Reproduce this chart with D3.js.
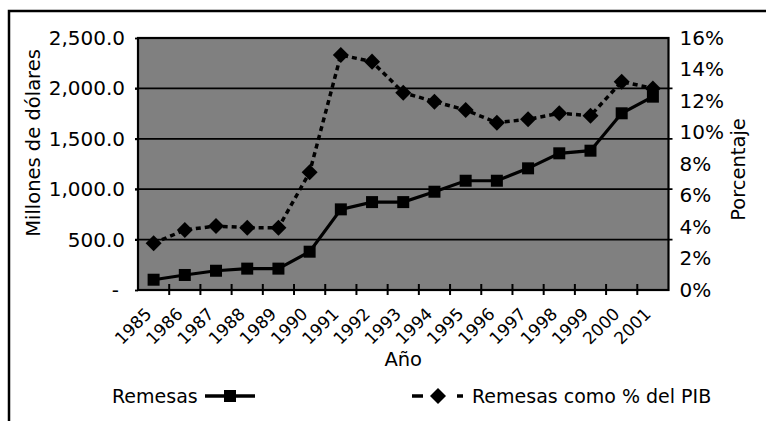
<!DOCTYPE html>
<html><head><meta charset="utf-8">
<script src="https://cdn.jsdelivr.net/npm/d3@7"></script>
<style>
body{margin:0;background:#fff}
text{font-family:"DejaVu Sans",sans-serif;fill:#000}
</style>
</head><body><svg id="c" width="766" height="421"></svg>
<script>
const years = ["1985","1986","1987","1988","1989","1990","1991","1992","1993","1994","1995","1996","1997","1998","1999","2000","2001"];
const remesas = [102,149,191,212,212,380,800,872,872,975,1084,1084,1207,1356,1382,1753,1918];
const pctPIB = [2.97,3.81,4.06,3.96,3.96,7.47,14.92,14.5,12.53,11.96,11.43,10.62,10.84,11.22,11.07,13.23,12.8];
const leftTicks = [0,500,1000,1500,2000,2500];
const rightTicks = [0,2,4,6,8,10,12,14,16];
const seriesNames = ["Remesas","Remesas como % del PIB"];

const svg = d3.select("#c");
const L = 138, R = 668.5, T = 38, B = 290;
const x = d3.scaleBand().domain(years).range([L, R]);
const y = d3.scaleLinear().domain([0, 2500]).range([B, T]);
const y2 = d3.scaleLinear().domain([0, 16]).range([B, T]);

// outer frame (cropped box)
svg.append("path").attr("d", "M9,421V11H766").attr("fill", "none").attr("stroke", "#000").attr("stroke-width", 2.5);

// plot background
svg.append("rect").attr("x", L).attr("y", T).attr("width", R - L).attr("height", B - T).attr("fill", "#808080");

// gridlines
svg.append("g").selectAll("line").data(leftTicks.filter(d => d > 0 && d < 2500)).join("line")
  .attr("x1", L - 3).attr("x2", R + 4).attr("y1", d => y(d)).attr("y2", d => y(d))
  .attr("stroke", "#000").attr("stroke-width", 1.8);

// plot border
svg.append("rect").attr("x", L).attr("y", T).attr("width", R - L).attr("height", B - T)
  .attr("fill", "none").attr("stroke", "#000").attr("stroke-width", 2.2);

// left axis
const ga = svg.append("g").attr("transform", `translate(${L},0)`)
  .call(d3.axisLeft(y).tickValues(leftTicks).tickSize(3).tickPadding(10)
    .tickFormat(d => d === 0 ? "-" : d3.format(",.1f")(d)));
ga.select(".domain").remove();
ga.selectAll("line").attr("stroke", "#000").attr("stroke-width", 1.8);
ga.selectAll("text").attr("font-size", 20).attr("font-family", '"DejaVu Sans",sans-serif')
  .attr("dx", d => d === 0 ? -6 : 0);

// right axis
const gr = svg.append("g").attr("transform", `translate(${R},0)`)
  .call(d3.axisRight(y2).tickValues(rightTicks).tickSize(0).tickPadding(11).tickFormat(d => d + "%"));
gr.select(".domain").remove();
gr.selectAll("text").attr("font-size", 20).attr("font-family", '"DejaVu Sans",sans-serif');

// x axis ticks (between categories, crossing)
const bounds = years.slice(1);
svg.append("g").selectAll("line").data(bounds).join("line")
  .attr("x1", d => x(d)).attr("x2", d => x(d)).attr("y1", B - 6).attr("y2", B + 5)
  .attr("stroke", "#000").attr("stroke-width", 2);

// x labels
svg.append("g").selectAll("text").data(years).join("text")
  .attr("transform", d => `translate(${x(d) + x.bandwidth() / 2 - 1},315) rotate(-45)`)
  .attr("text-anchor", "end").attr("font-size", 17).text(d => d);

// titles
svg.append("text").attr("transform", "translate(39.5,143) rotate(-90)").attr("text-anchor", "middle")
  .attr("font-size", 19.5).text("Millones de dólares");
svg.append("text").attr("transform", "translate(744.5,169.5) rotate(-90)").attr("text-anchor", "middle")
  .attr("font-size", 19.5).text("Porcentaje");
svg.append("text").attr("x", (L + R) / 2).attr("y", 366).attr("text-anchor", "middle")
  .attr("font-size", 19.5).text("Año");

const cx = d => x(d) + x.bandwidth() / 2;
const diamond = d3.symbol().type(d3.symbolSquare).size(128);

// percent series (dashed, diamonds)
const line2 = d3.line().x((d, i) => cx(years[i])).y(d => y2(d));
svg.append("path").datum(pctPIB).attr("d", line2).attr("fill", "none").attr("stroke", "#000")
  .attr("stroke-width", 3.5).attr("stroke-dasharray", "5,4");
svg.append("g").selectAll("path").data(pctPIB).join("path")
  .attr("d", diamond)
  .attr("transform", (d, i) => `translate(${cx(years[i])},${y2(d)}) rotate(45)`)
  .attr("fill", "#000");

// remesas series (solid, squares)
const line1 = d3.line().x((d, i) => cx(years[i])).y(d => y(d));
svg.append("path").datum(remesas).attr("d", line1).attr("fill", "none").attr("stroke", "#000")
  .attr("stroke-width", 3.2);
svg.append("g").selectAll("rect").data(remesas).join("rect")
  .attr("x", (d, i) => cx(years[i]) - 6).attr("y", d => y(d) - 6)
  .attr("width", 12).attr("height", 12).attr("fill", "#000");

// legend
const lg = svg.append("g");
lg.append("text").attr("x", 112).attr("y", 403).attr("font-size", 19).text(seriesNames[0]);
lg.append("line").attr("x1", 205).attr("x2", 255).attr("y1", 396).attr("y2", 396)
  .attr("stroke", "#000").attr("stroke-width", 3.5);
lg.append("rect").attr("x", 224).attr("y", 390).attr("width", 12).attr("height", 12).attr("fill", "#000");
lg.append("line").attr("x1", 412).attr("x2", 463).attr("y1", 396).attr("y2", 396)
  .attr("stroke", "#000").attr("stroke-width", 3.5).attr("stroke-dasharray", "11,34");
lg.append("path").attr("d", diamond).attr("transform", "translate(438,396) rotate(45)").attr("fill", "#000");
lg.append("text").attr("x", 472).attr("y", 403).attr("font-size", 19).text(seriesNames[1]);
</script>
</body></html>
